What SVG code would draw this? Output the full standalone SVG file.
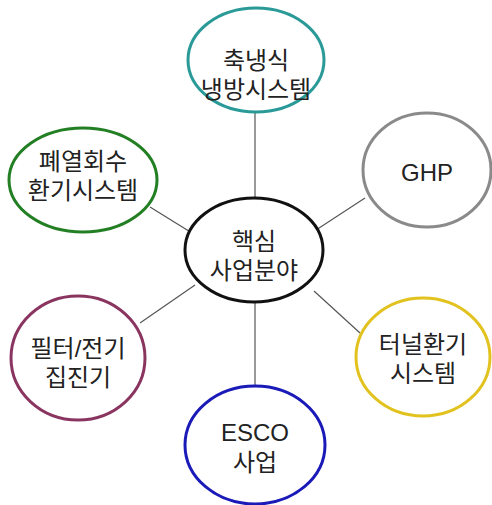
<svg xmlns="http://www.w3.org/2000/svg" width="492" height="505" viewBox="0 0 492 505">
<style>
.n{fill:#fff;stroke-width:3}
.t{font-family:"Liberation Sans","Noto Sans CJK KR",sans-serif;font-size:24px;fill:#222;text-anchor:middle}
.c line{stroke:#555;stroke-width:1.2}
</style>
<rect width="492" height="505" fill="#fff"/>
<g class="c" id="connectors">
<line x1="255" y1="113" x2="255" y2="198"/>
<line x1="150" y1="207" x2="192" y2="233"/>
<line x1="365" y1="198" x2="316" y2="230"/>
<line x1="140" y1="323" x2="195" y2="285"/>
<line x1="360" y1="333" x2="314" y2="291"/>
<line x1="255" y1="302" x2="255" y2="386"/>
</g>
<g id="n-top"><ellipse class="n" cx="256" cy="60" rx="68" ry="52" stroke="#2a9a98"/>
<text class="t" x="256" y="69">축냉식</text><text class="t" x="256" y="98">냉방시스템</text></g>
<g id="n-left"><ellipse class="n" cx="83" cy="180" rx="74" ry="52" stroke="#237f23"/>
<text class="t" x="83" y="170">폐열회수</text><text class="t" x="83" y="199">환기시스템</text></g>
<g id="n-ghp"><ellipse class="n" cx="427" cy="170" rx="64" ry="57" stroke="#8a8a8a"/>
<text class="t" x="427" y="181">GHP</text></g>
<g id="n-center"><ellipse class="n" cx="254" cy="250" rx="69" ry="52" stroke="#111"/>
<text class="t" x="254" y="250">핵심</text><text class="t" x="254" y="279">사업분야</text></g>
<g id="n-filter"><ellipse class="n" cx="78" cy="358" rx="67" ry="62" stroke="#8a3560"/>
<text class="t" x="78" y="357">필터/전기</text><text class="t" x="78" y="386">집진기</text></g>
<g id="n-tunnel"><ellipse class="n" cx="423" cy="357" rx="67" ry="59" stroke="#e2c21f"/>
<text class="t" x="423" y="353">터널환기</text><text class="t" x="423" y="382">시스템</text></g>
<g id="n-esco"><ellipse class="n" cx="255" cy="445" rx="70" ry="59" stroke="#1a1ab8"/>
<text class="t" x="255" y="441">ESCO</text><text class="t" x="255" y="471">사업</text></g>
</svg>
